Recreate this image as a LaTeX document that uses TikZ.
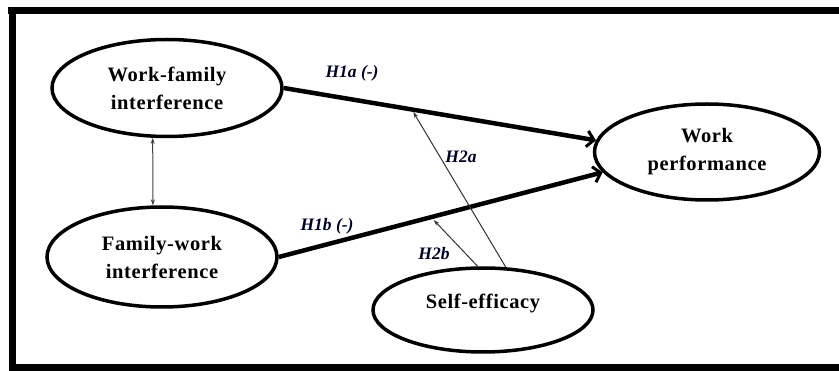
\documentclass[tikz,border=0pt]{standalone}
\usepackage{fontspec}
\setmainfont{Liberation Serif}
\usetikzlibrary{shapes.geometric,arrows.meta}
\tikzset{
  construct/.style={draw, ellipse, line width=3.5pt, inner sep=0pt, align=center,
    font=\bfseries\fontsize{20.5}{28}\selectfont\addfontfeature{LetterSpace=3}},
  mainpath/.style={line width=4.5pt, -{Straight Barb[length=7pt,width=16pt,line width=3pt]}},
  modpath/.style={line width=1pt, draw=black!80, -{Stealth[length=6pt,width=4pt]}},
  corr/.style={line width=1pt, draw=black!75, {Stealth[length=6pt,width=4pt]}-{Stealth[length=6pt,width=4pt]}},
  hyp/.style={font=\bfseries\itshape\fontsize{17.5}{20}\selectfont, inner sep=0pt, text=black!85!blue},
  bar/.style={fill=black, draw=none}
}
\begin{document}
\begin{tikzpicture}[x=1pt,y=-1pt]
\useasboundingbox (0,0) rectangle (839,371);
% frame
\fill[bar] (8,7) rectangle (839,14);
\fill[bar] (9,7) rectangle (16,371);
\fill[bar] (9,364) rectangle (839,371);
% constructs
\node[construct, minimum width=230pt, minimum height=97pt] (wf) at (167,88) {Work-family\\interference};
\node[construct, minimum width=230pt, minimum height=100pt] (fw) at (162,257) {Family-work\\interference};
\node[construct, minimum width=225pt, minimum height=96pt] (wp) at (707,152) {Work\\performance};
\node[construct, minimum width=220pt, minimum height=84pt] (se) at (483,310) {};
\node[font=\bfseries\fontsize{20.5}{28}\selectfont\addfontfeature{LetterSpace=3}] (setext) at (483,303) {Self-efficacy};
% main paths
\draw[mainpath] (wf.east) -- coordinate[pos=0.41] (m1) (wp.174);
\draw[mainpath] (fw.east) -- coordinate[pos=0.47] (m2) (wp.191);
% moderation
\draw[modpath, shorten >=3pt] (se.62) -- (m1);
\draw[modpath, shorten >=4pt] (se.97) -- (m2);
% correlation
\draw[corr] (wf.254) -- (fw.100);
% labels
\node[hyp] (h1a) at (352,73) {H1a (-)};
\node[hyp] (h2a) at (461,157) {H2a};
\node[hyp] (h1b) at (327,226) {H1b (-)};
\node[hyp] (h2b) at (434,254) {H2b};
\end{tikzpicture}
\end{document}
